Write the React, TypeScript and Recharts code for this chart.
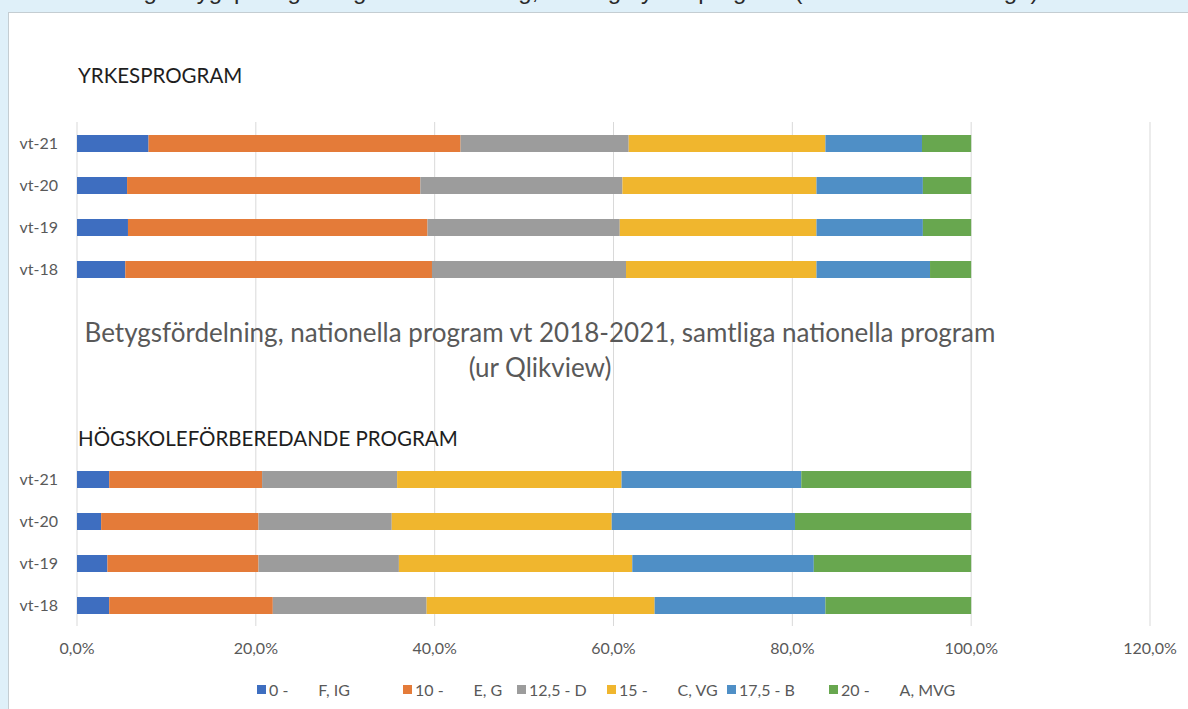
import { Bar, BarChart, CartesianGrid, Legend, XAxis, YAxis } from 'recharts';

// category rows, top to bottom (four empty rows hold the middle title)
const rowKeys = ['y21', 'y20', 'y19', 'y18', 'gap1', 'gap2', 'gap3', 'gap4', 'h21', 'h20', 'h19', 'h18'];
const rowLabels = ['vt-21', 'vt-20', 'vt-19', 'vt-18', '', '', '', '', 'vt-21', 'vt-20', 'vt-19', 'vt-18'];

const seriesNames = ['0 -   F, IG', '10 -   E, G', '12,5 - D', '15 -   C, VG', '17,5 - B', '20 -   A, MVG'];
const seriesColors = ['#3E6EC0', '#E47B39', '#9C9C9C', '#F0B62E', '#4F8FC6', '#68A74F'];

// share of grades (%) per row, in series order
const yrkes21 = [8.0, 34.9, 18.8, 22.0, 10.8, 5.5];
const yrkes20 = [5.6, 32.8, 22.6, 21.7, 11.9, 5.4];
const yrkes19 = [5.7, 33.5, 21.5, 22.0, 11.9, 5.4];
const yrkes18 = [5.4, 34.3, 21.7, 21.3, 12.7, 4.6];
const hogsk21 = [3.6, 17.1, 15.1, 25.1, 20.1, 19.0];
const hogsk20 = [2.7, 17.6, 14.9, 24.6, 20.5, 19.7];
const hogsk19 = [3.4, 16.9, 15.7, 26.1, 20.3, 17.6];
const hogsk18 = [3.6, 18.3, 17.2, 25.5, 19.1, 16.3];

const xTicks = [0, 20, 40, 60, 80, 100, 120];

const rowValues: (number[] | null)[] = [
  yrkes21, yrkes20, yrkes19, yrkes18, null, null, null, null, hogsk21, hogsk20, hogsk19, hogsk18,
];

const data = rowKeys.map((key, i) => {
  const row: Record<string, string | number> = { key };
  const vals = rowValues[i];
  if (vals) vals.forEach((v, s) => (row[`s${s}`] = v));
  return row;
});

const labelFor = (key: string) => rowLabels[rowKeys.indexOf(key)] ?? '';
const fmtPct = (v: number) => `${v.toFixed(1).replace('.', ',')}%`;

const INK = '#595959';
const FONT = 'Lato, "Open Sans", sans-serif';

// legend layout (px): width of each entry and the wide gap inside the label
const legendItemWidth = [146, 114, 90, 120, 102, 130];
const legendInnerGap = 30;

function GradeLegend() {
  return (
    <div style={{ display: 'flex', fontFamily: FONT, fontSize: 16, color: INK, whiteSpace: 'pre' }}>
      {seriesNames.map((name, i) => {
        const parts = name.split('   ');
        return (
          <div key={name} style={{ display: 'flex', alignItems: 'center', width: legendItemWidth[i] }}>
            <span style={{ width: 9, height: 9, background: seriesColors[i], marginRight: 3 }} />
            <span>{parts[0]}</span>
            {parts[1] && <span style={{ marginLeft: legendInnerGap }}>{parts[1]}</span>}
          </div>
        );
      })}
    </div>
  );
}

export default function App() {
  return (
    <div
      style={{
        position: 'absolute',
        left: 0,
        top: 0,
        width: 1188,
        height: 709,
        overflow: 'hidden',
        background: '#DFF0F9',
        fontFamily: FONT,
      }}
    >
      <div
        style={{
          position: 'absolute',
          left: 10,
          top: -21,
          fontFamily: '"Liberation Sans", Arial, sans-serif',
          fontSize: 24,
          lineHeight: '24px',
          color: '#2A2A2A',
          whiteSpace: 'nowrap',
        }}
      >
        Genomsnittlig betygspoäng och genomströmning, samtliga yrkesprogram (se nedan samt bilaga)
      </div>
      <div
        style={{
          position: 'absolute',
          left: 8,
          top: 12,
          width: 1200,
          height: 720,
          background: '#fff',
          border: '1px solid #C4CDD2',
        }}
      />
      <div style={{ position: 'absolute', left: 0, top: 0 }}>
        <BarChart
          width={1188}
          height={709}
          data={data}
          layout="vertical"
          margin={{ top: 122, right: 38, bottom: 53, left: 0 }}
        >
          <CartesianGrid horizontal={false} stroke="#D9D9D9" />
          <XAxis
            type="number"
            domain={[0, 120]}
            ticks={xTicks}
            tickFormatter={fmtPct}
            axisLine={false}
            tickLine={false}
            tickMargin={11}
            height={30}
            tick={{ fill: INK, fontSize: 16, fontFamily: FONT }}
          />
          <YAxis
            type="category"
            dataKey="key"
            width={77}
            interval={0}
            tickFormatter={labelFor}
            axisLine={false}
            tickLine={false}
            tickMargin={13}
            tick={{ fill: INK, fontSize: 16, fontFamily: FONT }}
          />
          {seriesNames.map((name, i) => (
            <Bar
              key={name}
              dataKey={`s${i}`}
              name={name}
              stackId="grades"
              fill={seriesColors[i]}
              barSize={17}
              isAnimationActive={false}
            />
          ))}
          <Legend
            layout="horizontal"
            verticalAlign="middle"
            align="center"
            content={() => <GradeLegend />}
            wrapperStyle={{ left: 257, top: 680, width: 760 }}
          />
        </BarChart>
      </div>
      <div
        style={{
          position: 'absolute',
          left: 78,
          top: 62,
          fontSize: 20.5,
          lineHeight: '26px',
          color: '#1E1E1E',
        }}
      >
        YRKESPROGRAM
      </div>
      <div
        style={{
          position: 'absolute',
          left: 78,
          top: 425,
          fontSize: 20.5,
          lineHeight: '26px',
          color: '#1E1E1E',
        }}
      >
        HÖGSKOLEFÖRBEREDANDE PROGRAM
      </div>
      <div
        style={{
          position: 'absolute',
          left: 0,
          top: 315,
          width: 1080,
          textAlign: 'center',
          fontSize: 26,
          lineHeight: '35px',
          color: INK,
        }}
      >
        Betygsfördelning, nationella program vt 2018-2021, samtliga nationella program
        <br />
        (ur Qlikview)
      </div>
    </div>
  );
}
